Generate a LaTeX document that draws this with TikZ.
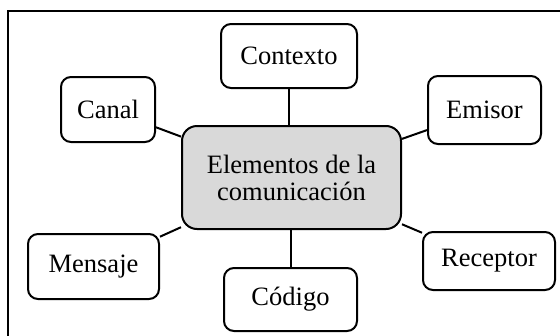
\documentclass[tikz,border=0pt]{standalone}
\usepackage{fontspec}
\setmainfont{Liberation Serif}
\begin{document}
\begin{tikzpicture}[x=1pt,y=-1pt,
  box/.style={draw=black,line width=2pt,rounded corners=10pt,fill=white,inner sep=0pt,
    font=\fontsize{26.5}{27}\selectfont,align=center},
  centerbox/.style={box,rounded corners=15pt,fill=centralgray},
  link/.style={draw=black,line width=2pt}]
\definecolor{centralgray}{HTML}{D9D9D9}
\useasboundingbox (0,0) rectangle (560,335);
\draw[line width=2pt] (8,345) -- (8,11) -- (570,11);
\node[centerbox,minimum width=219pt,minimum height=103pt] (central) at (291.5,177.5) {Elementos de la\\comunicación};
\node[box,minimum width=94pt,minimum height=65pt] (canal) at (108,109.5) {Canal};
\node[box,minimum width=136pt,minimum height=64pt] (contexto) at (289,56) {Contexto};
\node[box,minimum width=113pt,minimum height=68pt] (emisor) at (484.5,110) {Emisor};
\node[box,minimum width=131pt,minimum height=65pt] (mensaje) at (93.5,266.5) {Mensaje};
\node[box,minimum width=133pt,minimum height=63pt] (codigo) at (290.5,299.5) {Código};
\node[box,minimum width=132pt,minimum height=58pt] (receptor) at (489,261) {Receptor};
\foreach \n in {canal,emisor,mensaje,receptor}
  \draw[link] (central) -- (\n);
\draw[link] (central.north -| contexto.south) -- (contexto.south);
\draw[link] (central.south -| codigo.north) -- (codigo.north);
\end{tikzpicture}
\end{document}
